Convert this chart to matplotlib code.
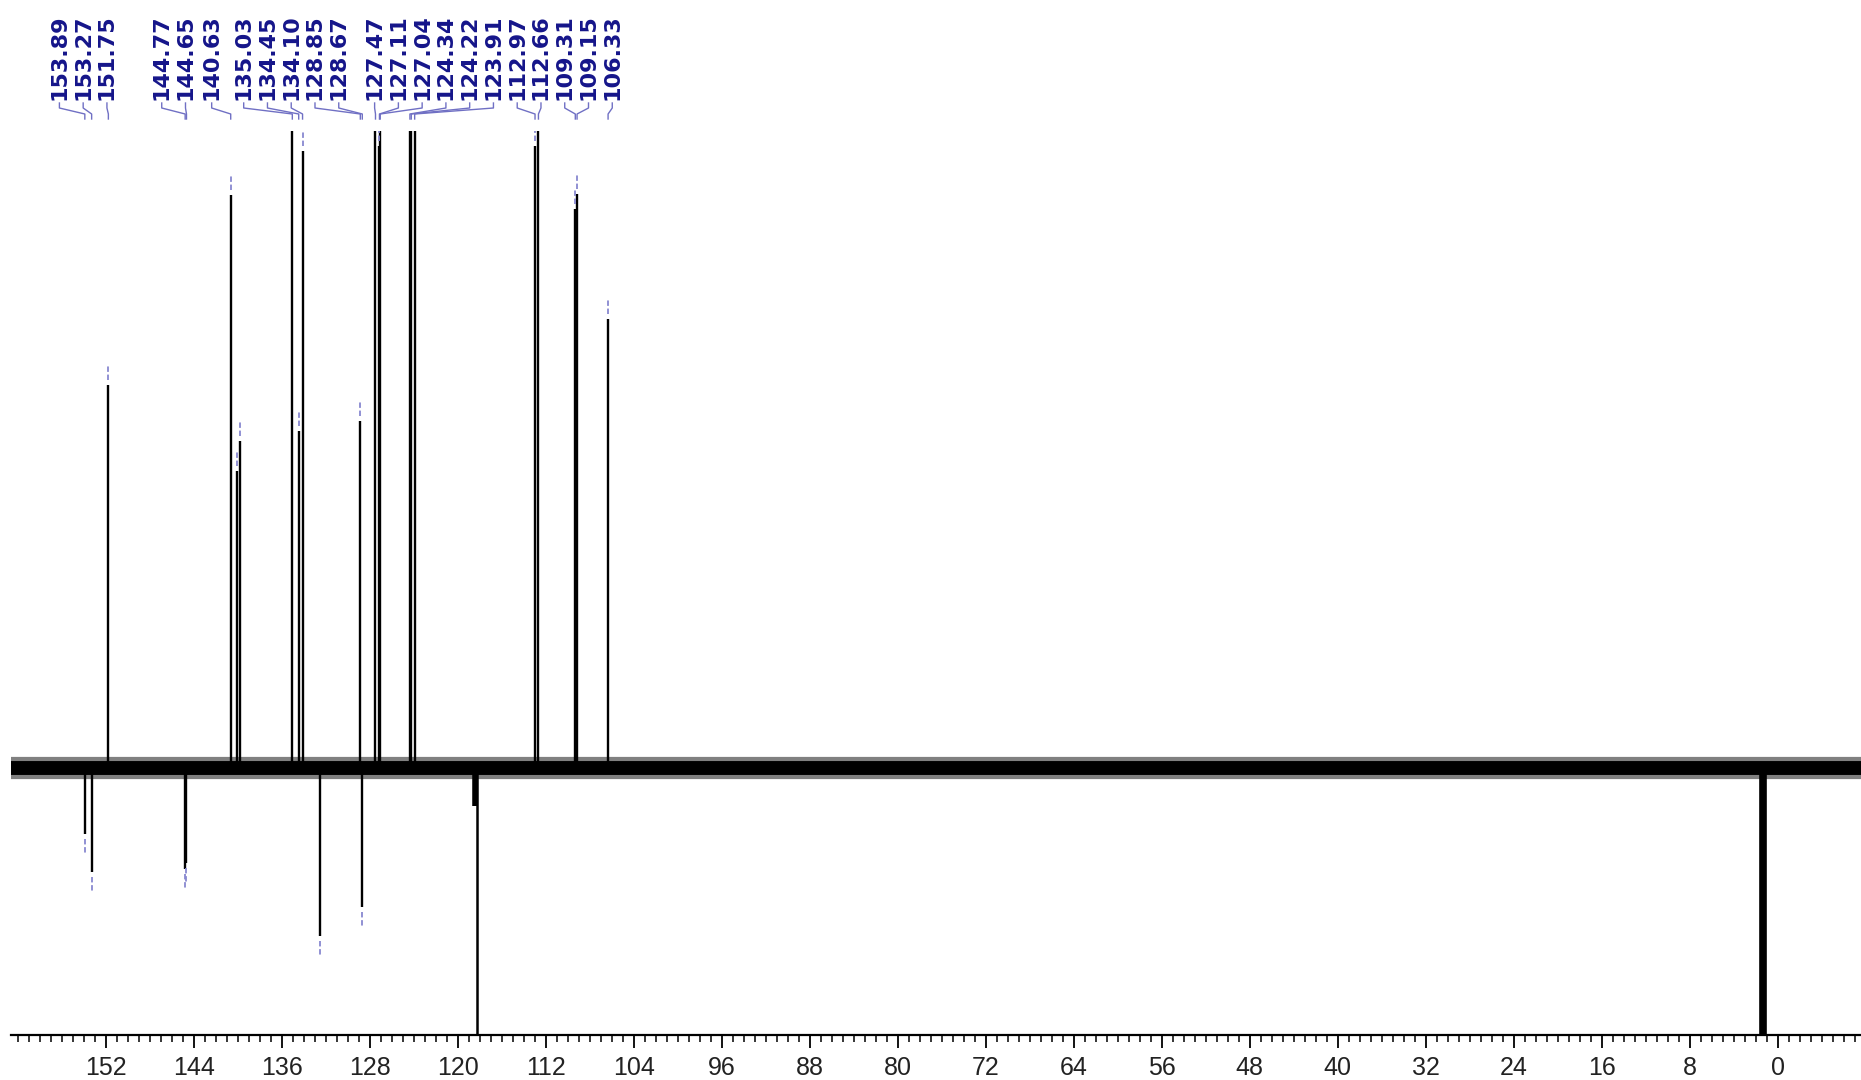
import numpy as np
import matplotlib
matplotlib.use('Agg')
import matplotlib.pyplot as plt
from matplotlib import font_manager
from matplotlib.transforms import blended_transform_factory
from matplotlib.ticker import MultipleLocator, FixedLocator

# labelled peaks: shift (ppm) and intensity (a.u., >100 runs off the top)
label_ppm = [153.89, 153.27, 151.75, 144.77, 144.65, 140.63, 135.03, 134.45,
             134.10, 128.85, 128.67, 127.47, 127.11, 127.04, 124.34, 124.22,
             123.91, 112.97, 112.66, 109.31, 109.15, 106.33]
label_int = [-10.4, -16.3, 60.1, -15.9, -14.9, 90.0, 130, 52.9,
             96.9, 54.5, -21.8, 120, 97.6, 115, 125, 125,
             120, 97.6, 115, 87.8, 90.1, 70.5]

# peaks without a label
extra_ppm = [140.09, 139.80, 132.55]
extra_int = [46.6, 51.3, -26.4]

# CD3CN solvent signals
solvent_ppm = [118.26, 118.40, 1.32]
solvent_int = [-60, -6, -60]

major_ticks = list(range(0, 153, 8))

names = {f.name for f in font_manager.fontManager.ttflist}
tick_font = 'Liberation Sans Narrow' if 'Liberation Sans Narrow' in names else 'Liberation Sans'

label_col = '#15158a'
link_col = '#7070c4'
mark_col = '#8888d0'

fig = plt.figure(figsize=(18.61, 10.80), dpi=100)
ax = fig.add_axes([11/1861, 45/1080, 1 - 11/1861, 904/1080])
ax.set_xlim(160.6, -7.55)
ax.set_ylim(-41.9, 100)

# baseline (noise band)
ax.axhline(0, color='0.5', lw=16, zorder=1)
ax.axhline(0, color='black', lw=10, zorder=2)

all_ppm = label_ppm + extra_ppm
all_int = label_int + extra_int
ax.vlines(all_ppm, 0, all_int, colors='black', lw=1.7, zorder=3)
ax.vlines(solvent_ppm[0], 0, solvent_int[0], colors='black', lw=1.8, zorder=3)
ax.vlines(solvent_ppm[1], 0, solvent_int[1], colors='black', lw=4, zorder=3)
ax.vlines(solvent_ppm[2], 0, solvent_int[2], colors='black', lw=5.5, zorder=3)

# peak pick marks
for p, h in zip(all_ppm, all_int):
    s = 1 if h > 0 else -1
    ax.vlines(p, h + s*0.8, h + s*3.3, colors=mark_col, lw=1.3,
              linestyles=(0, (3, 1.5)), zorder=4)

# label slots: (first slot ppm, number of labels), spaced evenly
groups = [(156.2, 3), (146.9, 2), (142.36, 1), (139.45, 5), (127.55, 11)]
step = 2.16
slots = []
for start, n in groups:
    slots += [start - k*step for k in range(n)]

trans = blended_transform_factory(ax.transData, ax.transAxes)
def above(d):
    return 1 + d/904

for p, sx in zip(label_ppm, slots):
    ax.text(sx, above(31), f'{p:.2f}', rotation=90, ha='center', va='bottom',
            transform=trans, fontsize=16, fontweight='bold', color=label_col,
            family='DejaVu Sans', clip_on=False)
    ax.plot([sx, sx, p, p], [above(28), above(23), above(17), above(12)],
            transform=trans, color=link_col, lw=1.0, clip_on=False)

for side in ['left', 'right', 'top']:
    ax.spines[side].set_visible(False)
ax.spines['bottom'].set_linewidth(1.6)
ax.set_yticks([])
ax.xaxis.set_major_locator(FixedLocator(major_ticks))
ax.xaxis.set_minor_locator(MultipleLocator(1))
ax.tick_params(axis='x', which='major', direction='out', length=9, width=1.3,
               labelsize=18, pad=6)
ax.tick_params(axis='x', which='minor', direction='out', length=5, width=1.1)
for lbl in ax.get_xticklabels():
    lbl.set_family(tick_font)
    lbl.set_color('#222222')

plt.savefig('out.png', dpi=100)
